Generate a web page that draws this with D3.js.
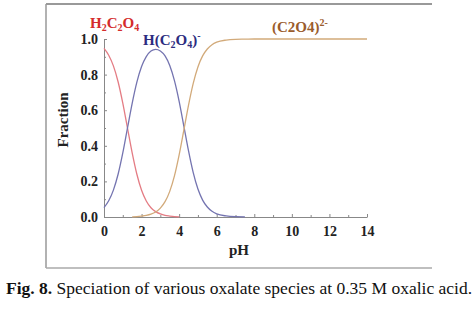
<!DOCTYPE html>
<html>
<head>
  <title>Oxalate speciation</title>
  <script src="https://d3js.org/d3.v7.min.js"></script>
  <style>
    body { margin: 0; background: #fff; }
    text { font-family: "Liberation Serif", "Times New Roman", serif; }
  </style>
</head>
<body>

<div id="chart"></div>

<script>
// pH grid and fraction of each species
const phVals = [0, 0.25, 0.5, 0.75, 1, 1.25, 1.5, 1.75, 2, 2.25, 2.5, 2.75, 3, 3.25, 3.5, 3.75,
  4, 4.25, 4.5, 4.75, 5, 5.25, 5.5, 5.75, 6, 6.5, 7, 7.5, 8, 9, 10, 11, 12, 13, 14];
const h2c2o4 = [0.947, 0.909, 0.849, 0.760, 0.640, 0.500, 0.360, 0.240, 0.150, 0.090, 0.052, 0.030,
  0.017, 0.009, 0.005, 0.002, 0.001, null, null, null, null, null, null, null, null, null, null,
  null, null, null, null, null, null, null, null];
const hc2o4 = [0.053, 0.091, 0.151, 0.240, 0.360, 0.500, 0.639, 0.758, 0.845, 0.901, 0.932, 0.942,
  0.933, 0.905, 0.851, 0.766, 0.650, 0.511, 0.371, 0.249, 0.157, 0.095, 0.056, 0.032, 0.018,
  0.006, 0.002, 0.001, null, null, null, null, null, null, null];
const c2o4 = [null, null, null, null, null, null, 0.001, 0.002, 0.005, 0.009, 0.016, 0.028,
  0.050, 0.086, 0.144, 0.231, 0.349, 0.488, 0.629, 0.751, 0.843, 0.905, 0.944, 0.968, 0.982,
  0.994, 0.998, 0.999, 1, 1, 1, 1, 1, 1, 1];
const xTicks = [0, 2, 4, 6, 8, 10, 12, 14];
const yTicks = [0, 0.2, 0.4, 0.6, 0.8, 1.0];

const W = 475, H = 315;
const margin = { top: 39, left: 104, right: 108, bottom: 98 };
const width = W - margin.left - margin.right;
const height = H - margin.top - margin.bottom;

const svg = d3.select("#chart")
  .append("svg")
  .attr("width", W)
  .attr("height", H);

// outer frame (top, left, bottom only)
svg.append("line").attr("x1", 46).attr("x2", 432).attr("y1", 4).attr("y2", 4)
  .attr("stroke", "#777").attr("stroke-width", 1.5);
svg.append("line").attr("x1", 46).attr("x2", 46).attr("y1", 4).attr("y2", 268)
  .attr("stroke", "#999").attr("stroke-width", 1.5);
svg.append("line").attr("x1", 46).attr("x2", 432).attr("y1", 268).attr("y2", 268)
  .attr("stroke", "#aaa").attr("stroke-width", 1.5);

const g = svg.append("g")
  .attr("transform", `translate(${margin.left},${margin.top})`);

const x = d3.scaleLinear().domain([0, 14]).range([0, width]);
const y = d3.scaleLinear().domain([0, 1]).range([height, 0]);

// minor ticks
g.append("g")
  .attr("transform", `translate(0,${height})`)
  .call(d3.axisBottom(x).tickValues(d3.range(1, 14, 2)).tickSize(-2).tickFormat(""))
  .call(a => a.select(".domain").remove())
  .call(a => a.selectAll("line").attr("stroke", "#888"));
g.append("g")
  .call(d3.axisLeft(y).tickValues(d3.range(0.1, 1, 0.2)).tickSize(-2).tickFormat(""))
  .call(a => a.select(".domain").remove())
  .call(a => a.selectAll("line").attr("stroke", "#888"));

const xAxis = g.append("g")
  .attr("transform", `translate(0,${height})`)
  .call(d3.axisBottom(x).tickValues(xTicks).tickSizeInner(-3).tickSizeOuter(0).tickPadding(9));
const yAxis = g.append("g")
  .call(d3.axisLeft(y).tickValues(yTicks).tickSizeInner(-3).tickSizeOuter(0).tickPadding(6)
    .tickFormat(d3.format(".1f")));
[xAxis, yAxis].forEach(a => {
  a.select(".domain").attr("stroke", "#888");
  a.selectAll(".tick line").attr("stroke", "#888");
  a.selectAll("text")
    .attr("font-family", "Liberation Serif, serif")
    .attr("font-weight", "bold")
    .attr("font-size", 14)
    .attr("fill", "#222");
});

// curves
const series = [
  { vals: h2c2o4, color: "#e47c84" },
  { vals: hc2o4, color: "#7474b0" },
  { vals: c2o4, color: "#d2aa7a" }
];
series.forEach(s => {
  const line = d3.line()
    .defined((d, i) => s.vals[i] !== null)
    .x(d => x(d))
    .y((d, i) => y(s.vals[i]))
    .curve(d3.curveMonotoneX);
  g.append("path")
    .datum(phVals)
    .attr("fill", "none")
    .attr("stroke", s.color)
    .attr("stroke-width", 1.3)
    .attr("d", line);
});

// species labels with sub/superscripts
function label(parts, xp, yp, color) {
  const t = svg.append("text")
    .attr("x", xp).attr("y", yp)
    .attr("font-weight", "bold")
    .attr("font-size", 15)
    .attr("fill", color);
  parts.forEach(p => {
    const ts = t.append("tspan").text(p[0]);
    if (p[1] === "sub") ts.attr("font-size", 10).attr("dy", 3);
    if (p[1] === "sup") ts.attr("font-size", 10).attr("dy", -6);
    if (p[2] !== undefined) ts.attr("dy", p[2]);
  });
}
label([["H"], ["2", "sub"], ["C", null, -3], ["2", "sub"], ["O", null, -3], ["4", "sub"]],
  90, 28, "#d42c2c");
label([["H(C"], ["2", "sub"], ["O", null, -3], ["4", "sub"], [")", null, -3], ["-", "sup"]],
  143, 45, "#2c2c80");
label([["(C2O4)"], ["2-", "sup"]], 272, 32, "#9a5c2c");

// axis titles
svg.append("text")
  .attr("x", 239).attr("y", 255)
  .attr("text-anchor", "middle")
  .attr("font-weight", "bold").attr("font-size", 15)
  .attr("fill", "#222")
  .text("pH");
svg.append("text")
  .attr("transform", "translate(68,120) rotate(-90)")
  .attr("text-anchor", "middle")
  .attr("font-weight", "bold").attr("font-size", 15)
  .attr("fill", "#222")
  .text("Fraction");

// caption
const cap = svg.append("text")
  .attr("x", 6).attr("y", 294)
  .attr("font-size", 17.5)
  .attr("fill", "#111");
cap.append("tspan").attr("font-weight", "bold").text("Fig. 8.");
cap.append("tspan").text(" Speciation of various oxalate species at 0.35 M oxalic acid.");
</script>

</body>
</html>
